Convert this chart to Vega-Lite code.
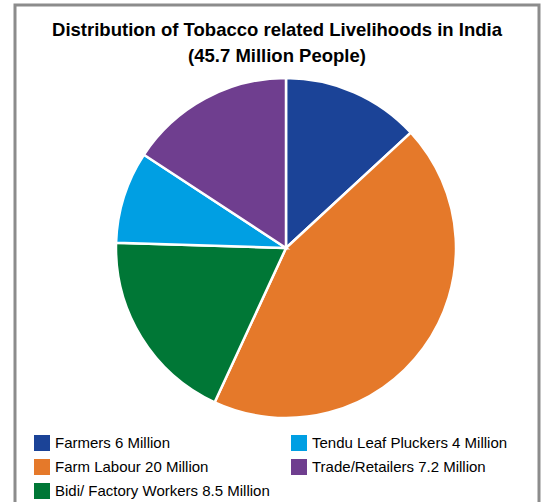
{
  "$schema": "https://vega.github.io/schema/vega-lite/v6.json",
  "width": 524,
  "height": 520,
  "autosize": {"type": "none"},
  "padding": {"left": 15, "top": 5, "right": 3, "bottom": 0},
  "background": "white",
  "view": {"stroke": "#8c8c8c", "strokeWidth": 3, "fill": "white"},
  "title": {
    "text": ["Distribution of Tobacco related Livelihoods in India", "(45.7 Million People)"],
    "font": "Liberation Sans",
    "fontSize": 18.5,
    "fontWeight": "bold",
    "color": "black",
    "lineHeight": 26,
    "anchor": "middle",
    "offset": -60
  },
  "data": {
    "values": [
      {"category": "Farmers 6 Million", "value": 6, "order": 1},
      {"category": "Farm Labour 20 Million", "value": 20, "order": 2},
      {"category": "Bidi/ Factory Workers 8.5 Million", "value": 8.5, "order": 3},
      {"category": "Tendu Leaf Pluckers 4 Million", "value": 4, "order": 4},
      {"category": "Trade/Retailers 7.2 Million", "value": 7.2, "order": 5}
    ]
  },
  "mark": {"type": "arc", "radius": 170, "stroke": "white", "strokeWidth": 2.5, "xOffset": 9, "yOffset": -17},
  "encoding": {
    "theta": {"field": "value", "type": "quantitative", "stack": true},
    "order": {"field": "order", "type": "quantitative"},
    "color": {
      "field": "category",
      "type": "nominal",
      "scale": {
        "domain": ["Farmers 6 Million", "Farm Labour 20 Million", "Bidi/ Factory Workers 8.5 Million", "Tendu Leaf Pluckers 4 Million", "Trade/Retailers 7.2 Million"],
        "range": ["#1B4397", "#E5792A", "#007736", "#009FE3", "#6F3E8F"]
      },
      "legend": {
        "title": null,
        "orient": "none",
        "legendX": 19,
        "legendY": 430,
        "columns": 2,
        "columnPadding": 21,
        "rowPadding": 8,
        "symbolType": "square",
        "symbolSize": 256,
        "symbolStrokeWidth": 0,
        "symbolOffset": 0,
        "labelFont": "Liberation Sans",
        "labelFontSize": 15,
        "labelColor": "black",
        "labelOffset": 5,
        "labelLimit": 400
      }
    }
  }
}
